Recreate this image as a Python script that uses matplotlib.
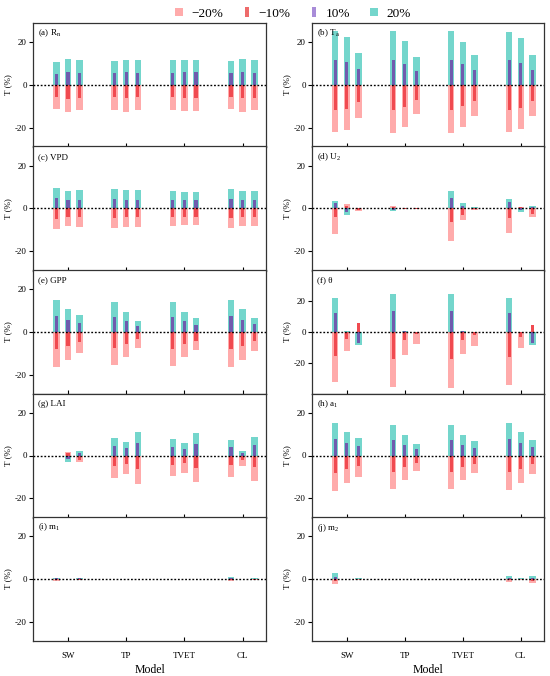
import matplotlib
matplotlib.use("Agg")
import matplotlib.pyplot as plt
from matplotlib.lines import Line2D
import numpy as np

plt.rcParams['font.family'] = ['Liberation Serif', 'DejaVu Serif']
plt.rcParams['mathtext.fontset'] = 'custom'
plt.rcParams['mathtext.rm'] = 'Liberation Serif'
plt.rcParams['mathtext.it'] = 'Liberation Serif:italic'
plt.rcParams['axes.unicode_minus'] = False

models = ["SW", "TP", "TVET", "CL"]
levels = ["\u221220%", "\u221210%", "10%", "20%"]

# values per panel: 12 bars (4 models x 3 bars), order SW1..SW3, TP1.., TVET.., CL..
rn_n20 = [-11.1, -12.5, -11.9, -11.6, -12.4, -11.9, -11.8, -12.3, -12.3, -11.3, -12.4, -11.9]
rn_n10 = [-5.6, -6.4, -6.0, -5.6, -6.0, -5.8, -5.8, -6.0, -6.0, -5.6, -6.2, -5.9]
rn_p10 = [5.3, 6.1, 5.8, 5.6, 6.0, 5.6, 5.7, 6.0, 6.0, 5.5, 6.1, 5.8]
rn_p20 = [10.8, 12.1, 11.6, 11.3, 11.8, 11.5, 11.5, 11.8, 11.9, 11.1, 12.1, 11.6]

ta_n20 = [-22.0, -20.9, -15.4, -22.3, -19.8, -13.6, -22.4, -19.6, -14.6, -22.0, -20.5, -14.3]
ta_n10 = [-11.5, -11.0, -7.8, -11.6, -10.4, -7.1, -11.6, -10.0, -7.4, -11.6, -10.7, -7.4]
ta_p10 = [11.9, 10.7, 7.4, 11.9, 10.0, 6.4, 11.9, 9.9, 6.9, 11.8, 10.5, 6.9]
ta_p20 = [25.4, 22.3, 15.1, 25.3, 20.4, 13.2, 25.3, 20.1, 14.1, 24.9, 21.8, 14.0]

vpd_n20 = [-9.6, -8.2, -8.7, -9.1, -8.5, -8.7, -8.3, -7.9, -7.9, -9.1, -8.3, -8.3]
vpd_n10 = [-4.9, -4.1, -4.1, -4.6, -4.1, -4.1, -4.1, -3.8, -3.8, -4.6, -4.1, -4.1]
vpd_p10 = [4.7, 4.1, 4.1, 4.4, 4.1, 4.1, 4.1, 3.9, 3.9, 4.4, 4.1, 4.1]
vpd_p20 = [9.4, 8.2, 8.5, 9.0, 8.5, 8.5, 8.3, 7.9, 7.9, 9.0, 8.2, 8.2]

u2_n20 = [-11.7, 2.0, -1.3, 1.2, -0.3, -0.2, -15.3, -5.4, -0.6, -11.3, 0.8, -3.9]
u2_n10 = [-4.1, 1.1, -0.6, 0.5, -0.15, -0.1, -6.5, -3.0, -0.3, -4.3, 0.5, -2.5]
u2_p10 = [2.4, -1.6, 0.1, -0.6, 0.15, 0.1, 4.7, 1.4, 0.3, 3.0, -0.9, 0.5]
u2_p20 = [3.5, -3.0, 0.3, -1.2, 0.3, 0.2, 8.3, 2.7, 0.6, 4.6, -1.7, 1.1]

gpp_n20 = [-16.4, -13.0, -10.0, -15.6, -11.7, -7.3, -15.8, -11.7, -8.6, -16.4, -13.0, -8.9]
gpp_n10 = [-8.0, -6.4, -4.8, -7.7, -5.8, -3.4, -7.8, -5.8, -4.1, -8.0, -6.4, -4.2]
gpp_p10 = [7.5, 5.6, 4.1, 7.0, 5.0, 2.8, 7.0, 5.0, 3.4, 7.5, 5.6, 3.6]
gpp_p20 = [14.8, 10.9, 7.8, 13.9, 9.5, 5.3, 14.1, 9.5, 6.6, 14.8, 10.8, 6.7]

th_n20 = [-31.6, -11.8, -2.0, -35.1, -14.4, -7.7, -35.5, -14.2, -9.0, -33.8, -10.3, -2.0]
th_n10 = [-15.1, -4.5, 6.0, -17.2, -5.4, -1.5, -17.2, -5.4, -1.9, -16.1, -3.4, 4.3]
th_p10 = [12.0, 0.3, -7.3, 13.3, 0.4, 0.1, 13.3, 0.4, 0.1, 12.0, 0.1, -6.9]
th_p20 = [21.9, 0.8, -8.2, 24.1, 0.9, 0.3, 24.1, 0.9, 0.3, 21.5, 0.3, -8.4]

lai_n20 = [0.0, 1.6, -3.0, -10.4, -8.7, -13.4, -9.8, -8.3, -12.6, -9.9, -5.0, -11.7]
lai_n10 = [0.0, 1.3, -2.0, -4.9, -4.1, -6.3, -4.6, -3.6, -6.0, -4.6, -2.0, -5.4]
lai_p10 = [0.0, -1.6, 1.0, 4.4, 3.3, 5.8, 4.1, 3.1, 5.5, 3.9, 1.3, 4.7]
lai_p20 = [0.0, -3.0, 1.9, 8.2, 6.1, 11.2, 7.7, 5.8, 10.4, 7.4, 1.9, 8.8]

a1_n20 = [-16.4, -12.9, -9.9, -15.6, -11.5, -7.2, -15.7, -11.5, -8.3, -16.2, -12.8, -8.8]
a1_n10 = [-8.0, -6.3, -4.7, -7.6, -5.5, -3.3, -7.6, -5.5, -3.9, -7.9, -6.1, -4.1]
a1_p10 = [7.7, 5.7, 4.3, 7.4, 5.0, 3.0, 7.4, 5.0, 3.6, 7.7, 5.7, 3.8]
a1_p20 = [15.3, 11.2, 8.0, 14.2, 9.8, 5.5, 14.5, 9.8, 6.6, 15.1, 11.0, 7.1]

m1_n20 = [-0.8, -0.2, -0.6, 0, 0, 0, 0, 0, 0, -1.1, -0.2, -0.6]
m1_n10 = [-0.4, -0.1, -0.3, 0, 0, 0, 0, 0, 0, -0.5, -0.1, -0.3]
m1_p10 = [0.3, 0.1, 0.25, 0, 0, 0, 0, 0, 0, 0.4, 0.1, 0.2]
m1_p20 = [0.6, 0.2, 0.5, 0, 0, 0, 0, 0, 0, 0.8, 0.2, 0.4]

m2_n20 = [-2.4, -0.2, -0.3, 0, 0, 0, 0, 0, 0, -1.3, -0.3, -2.0]
m2_n10 = [-1.1, -0.1, -0.15, 0, 0, 0, 0, 0, 0, -0.7, -0.2, -1.0]
m2_p10 = [1.1, 0.1, 0.15, 0, 0, 0, 0, 0, 0, 0.7, 0.2, 0.7]
m2_p20 = [3.0, 0.2, 0.3, 0, 0, 0, 0, 0, 0, 1.4, 0.5, 1.4]

panel_titles = [r"(a) R$_{\mathrm{n}}$", r"(b) T$_{\mathrm{a}}$", "(c) VPD", r"(d) U$_{2}$",
                "(e) GPP", "(f) \u03b8", "(g) LAI", r"(h) a$_{1}$",
                r"(i) m$_{1}$", r"(j) m$_{2}$"]
panel_data = [
    (rn_n20, rn_n10, rn_p10, rn_p20),
    (ta_n20, ta_n10, ta_p10, ta_p20),
    (vpd_n20, vpd_n10, vpd_p10, vpd_p20),
    (u2_n20, u2_n10, u2_p10, u2_p20),
    (gpp_n20, gpp_n10, gpp_p10, gpp_p20),
    (th_n20, th_n10, th_p10, th_p20),
    (lai_n20, lai_n10, lai_p10, lai_p20),
    (a1_n20, a1_n10, a1_p10, a1_p20),
    (m1_n20, m1_n10, m1_p10, m1_p20),
    (m2_n20, m2_n10, m2_p10, m2_p20),
]
ylims = [29, 29, 29, 29, 29, 39.4, 29, 29, 29, 29]

c_pink = '#FFABAB'
c_red = '#F04A50'
c_purple = '#6F5BAE'
c_teal = '#74D6CC'

W, H = 550, 676
fig = plt.figure(figsize=(W / 100, H / 100), dpi=100)

col_left = [33, 312]
col_w = [233, 232]
row_tops = [23, 146.5, 270, 393.5, 517]
row_h = 124

group_x = np.arange(1, 5)
offsets = np.array([-0.2, 0.0, 0.2])
xpos = (group_x[:, None] + offsets[None, :]).ravel()
wide = 0.112
narrow = 0.056

for i, (title, data) in enumerate(zip(panel_titles, panel_data)):
    r, c = divmod(i, 2)
    left = col_left[c] / W
    bottom = 1 - (row_tops[r] + row_h) / H
    ax = fig.add_axes([left, bottom, col_w[c] / W, row_h / H])
    n20, n10, p10, p20 = data
    ax.bar(xpos, n20, width=wide, color=c_pink, linewidth=0, zorder=2)
    ax.bar(xpos, n10, width=narrow, color=c_red, linewidth=0, zorder=3)
    ax.bar(xpos, p20, width=wide, color=c_teal, linewidth=0, zorder=4)
    ax.bar(xpos, p10, width=narrow, color=c_purple, linewidth=0, zorder=5)
    ax.axhline(0, color='black', linestyle=(0, (1.3, 1.3)), linewidth=1.0, zorder=6)
    ax.set_xlim(0.4, 4.4)
    ax.set_ylim(-ylims[i], ylims[i])
    ax.set_yticks([-20, 0, 20])
    ax.set_xticks(group_x)
    ax.tick_params(axis='x', direction='in', length=3, width=0.8, labelsize=6.5, pad=8)
    ax.tick_params(axis='y', direction='out', length=3, width=0.8, labelsize=6.5, pad=1.5)
    if r == 4:
        ax.set_xticklabels(models)
        ax.set_xlabel("Model", fontsize=8.5, labelpad=2.5)
    else:
        ax.set_xticklabels([])
    ax.set_ylabel("T (%)", fontsize=6.5, labelpad=2)
    for s in ax.spines.values():
        s.set_linewidth(0.9)
        s.set_color('#333333')
    ax.text(0.02, 0.915, title, transform=ax.transAxes, fontsize=6.5, va='center', ha='left', zorder=7)

rect_marker = [(-0.35, -1), (0.35, -1), (0.35, 1), (-0.35, 1), (-0.35, -1)]
handles = [
    Line2D([], [], linestyle='none', marker='s', markersize=6, color=c_pink, markeredgewidth=0),
    Line2D([], [], linestyle='none', marker=rect_marker, markersize=6.5, color='#EE6B6B', markeredgewidth=0),
    Line2D([], [], linestyle='none', marker=rect_marker, markersize=6.5, color='#A88CD8', markeredgewidth=0),
    Line2D([], [], linestyle='none', marker='s', markersize=6, color=c_teal, markeredgewidth=0),
]
fig.legend(handles, levels, loc='upper center', bbox_to_anchor=(0.53, 1.006), ncol=4,
           frameon=False, fontsize=9.5, handletextpad=0.4, columnspacing=1.3, handlelength=1.0)

fig.savefig("out.png", dpi=100)
